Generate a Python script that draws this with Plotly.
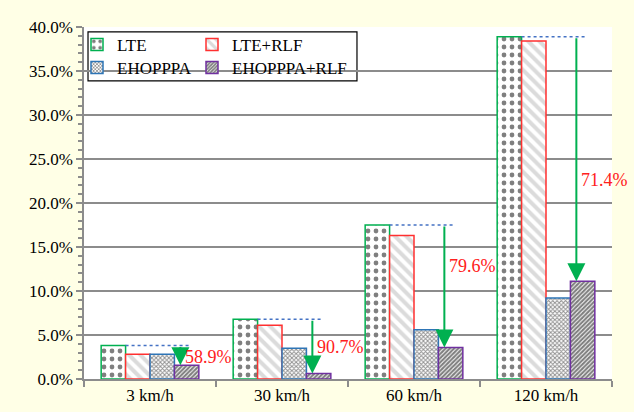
import plotly.graph_objects as go

categories = ["3 km/h", "30 km/h", "60 km/h", "120 km/h"]
lte = [0.038, 0.068, 0.175, 0.389]
lte_rlf = [0.028, 0.061, 0.163, 0.384]
ehopppa = [0.028, 0.035, 0.056, 0.092]
ehopppa_rlf = [0.0156, 0.0063, 0.0357, 0.111]
reductions = ["58.9%", "90.7%", "79.6%", "71.4%"]
label_y = [0.025, 0.036, 0.128, 0.226]

FONT = "Liberation Serif"
GRID = "#8c8c8c"

fig = go.Figure()

series = [
    ("LTE", lte, "#00B050", dict(shape=".", fgcolor="#000000", bgcolor="#ffffff", size=8, solidity=0.28), "legend"),
    ("LTE+RLF", lte_rlf, "#FF3030", dict(shape="\\", fgcolor="#b8b8b8", bgcolor="#ffffff", size=8, solidity=0.5), "legend2"),
    ("EHOPPPA", ehopppa, "#2E75B6", dict(shape="x", fgcolor="#222222", bgcolor="#ffffff", size=3, solidity=0.55), "legend3"),
    ("EHOPPPA+RLF", ehopppa_rlf, "#7030A0", dict(shape="/", fgcolor="#000000", bgcolor="#ffffff", size=3, solidity=0.7), "legend4"),
]

for name, vals, col, pat, lg in series:
    fig.add_trace(go.Bar(
        x=categories, y=vals, name=name, showlegend=True,
        marker=dict(color="#ffffff", line=dict(color=col, width=1.5), pattern=pat),
        legend=lg,
    ))

arrow_off = 0.23
for i in range(len(categories)):
    xa = i + arrow_off
    fig.add_shape(type="line", xref="x", yref="y",
                  x0=i - 0.185, x1=i + 0.31, y0=lte[i], y1=lte[i],
                  line=dict(color="#4472C4", width=1.5, dash="dot"))
    fig.add_annotation(x=xa, y=ehopppa_rlf[i], ax=xa, ay=lte[i],
                       xref="x", yref="y", axref="x", ayref="y",
                       text="", showarrow=True, arrowhead=2, arrowsize=1.8,
                       arrowwidth=2, arrowcolor="#00B050")
    fig.add_annotation(x=xa, y=label_y[i], xref="x", yref="y",
                       text=reductions[i], showarrow=False,
                       xanchor="left", xshift=3,
                       font=dict(family=FONT, size=18, color="#FF2020"))

fig.add_shape(type="rect", xref="paper", yref="paper",
              x0=0.0076, x1=0.517, y0=0.847, y1=0.986,
              line=dict(color="#000000", width=1.2), fillcolor="#ffffff", layer="below")

def leg(x, y):
    return dict(x=x, y=y, xanchor="left", yanchor="middle", visible=True,
                bgcolor="rgba(0,0,0,0)", tracegroupgap=0,
                font=dict(family=FONT, size=17), itemwidth=30)

row1 = (379 - 45) / 352
row2 = (379 - 68) / 352
col1 = -7 / 528
col2 = (192 - 84) / 528

fig.update_layout(
    width=634, height=412,
    margin=dict(l=84, r=22, t=27, b=33, autoexpand=False),
    paper_bgcolor="#FFFFE6", plot_bgcolor="#ffffff",
    barmode="group", bargap=0.26, bargroupgap=0,
    showlegend=True,
    font=dict(family=FONT, size=17, color="#000000"),
    legend=leg(col1, row1),
    legend2=leg(col2, row1),
    legend3=leg(col1, row2),
    legend4=leg(col2, row2),
    xaxis=dict(type="category", range=[-0.5, 3.5], tickson="boundaries", ticks="outside",
               ticklen=6, tickcolor=GRID, tickwidth=1.5,
               showline=True, linecolor=GRID, linewidth=1.5, automargin=False,
               showgrid=False, tickfont=dict(family=FONT, size=17)),
    yaxis=dict(range=[0, 0.40], dtick=0.05, tickformat=".1%", automargin=False,
               showgrid=True, gridcolor=GRID, gridwidth=1.5,
               showline=True, linecolor=GRID, linewidth=1.5,
               ticks="outside", ticklen=6, tickcolor=GRID, tickwidth=1.5,
               minor=dict(dtick=0.01, ticks="outside", ticklen=4,
                          tickcolor=GRID, tickwidth=1.5, showgrid=False),
               zeroline=False, tickfont=dict(family=FONT, size=17)),
)

fig.write_html("out.html", config={"displayModeBar": False},
               post_script="document.body.style.margin='0';")
